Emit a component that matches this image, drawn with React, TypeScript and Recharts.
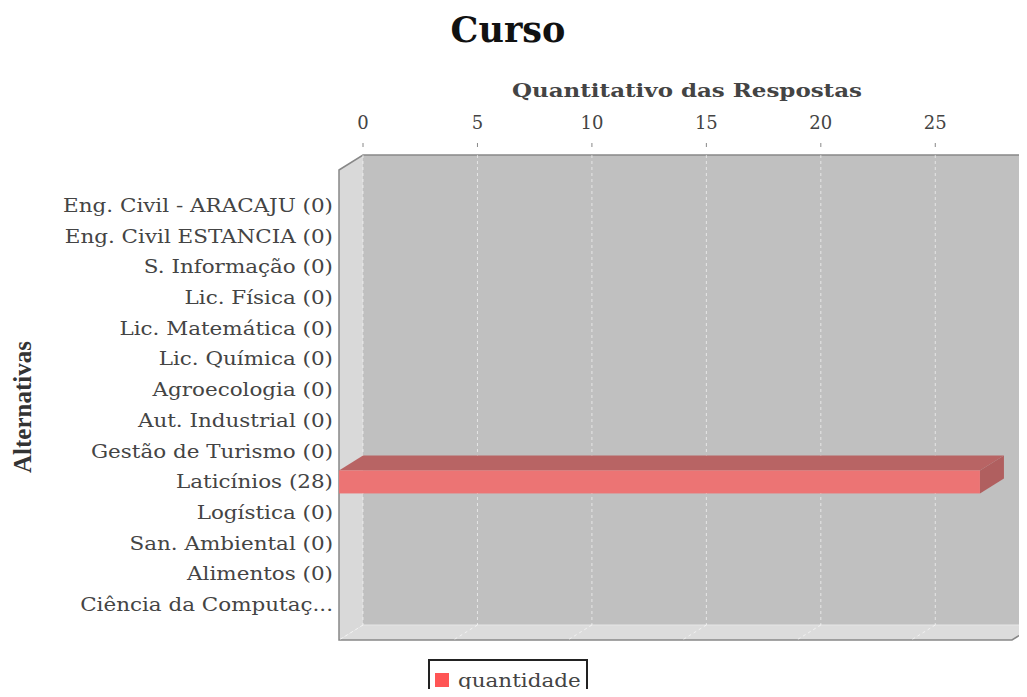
import React from "react";
import { BarChart, Bar, XAxis, YAxis, CartesianGrid, Legend } from "recharts";

const categories = [
  "Eng. Civil - ARACAJU (0)",
  "Eng. Civil ESTANCIA (0)",
  "S. Informação (0)",
  "Lic. Física (0)",
  "Lic. Matemática (0)",
  "Lic. Química (0)",
  "Agroecologia (0)",
  "Aut. Industrial (0)",
  "Gestão de Turismo (0)",
  "Laticínios (28)",
  "Logística (0)",
  "San. Ambiental (0)",
  "Alimentos (0)",
  "Ciência da Computaç...",
];
const quantidade = [0, 0, 0, 0, 0, 0, 0, 0, 0, 28, 0, 0, 0, 0];
const xTicks = [0, 5, 10, 15, 20, 25];

const data = categories.map((curso, i) => ({ curso, quantidade: quantidade[i] }));

// depth of the fake 3d effect
const DX = 24;
const DY = 15;
const SERIF = "'DejaVu Serif', serif";
// the original picture is a bit stretched sideways
const STRETCH = 1.13;

function Walls({ x, y, width, height }: any) {
  const w = width;
  const h = height;
  return (
    <g>
      <polygon
        points={`${x - DX},${y + DY} ${x},${y} ${x},${y + h} ${x - DX},${y + h + DY}`}
        fill="#d9d9d9"
      />
      <polygon
        points={`${x - DX},${y + h + DY} ${x},${y + h} ${x + w},${y + h} ${x + w - DX},${y + h + DY}`}
        fill="#dcdcdc"
      />
      <line x1={x} x2={x + w} y1={y + h} y2={y + h} stroke="#e6e6e6" />
      <path
        d={`M${x - DX},${y + DY} L${x},${y} L${x + w},${y} L${x + w},${y + h} L${x + w - DX},${y + h + DY} L${x - DX},${y + h + DY} Z`}
        fill="none"
        stroke="#888"
        strokeWidth={1.5}
      />
    </g>
  );
}

const verticalLine = (props: any) => {
  const { x1, y1, y2, index, x, y, width, height } = props;
  const atEdge = x1 >= x + width - 0.5;
  return (
    <g key={`v-${index}`}>
      {index === 0 && <Walls x={x} y={y} width={width} height={height} />}
      {!atEdge && (
        <>
          <line x1={x1} x2={x1} y1={y1} y2={y2} stroke="#fff" strokeOpacity={0.6} strokeDasharray="3 3" />
          <line x1={x1} x2={x1 - DX} y1={y2} y2={y2 + DY} stroke="#fff" strokeOpacity={0.6} strokeDasharray="3 3" />
        </>
      )}
    </g>
  );
};

const Bar3D = (props: any) => {
  const { x, y, width, height } = props;
  if (!width || width <= 0) return null;
  const fx = x - DX;
  const fy = y + DY;
  return (
    <g>
      <polygon points={`${fx},${fy} ${x},${y} ${x + width},${y} ${fx + width},${fy}`} fill="#b86464" />
      <polygon
        points={`${fx + width},${fy} ${x + width},${y} ${x + width},${y + height} ${fx + width},${fy + height}`}
        fill="#b05f5f"
      />
      <rect x={fx} y={fy} width={width} height={height} fill="#ec7474" />
    </g>
  );
};

const XTick = ({ x, y, payload }: any) => (
  <g>
    <line x1={x} x2={x} y1={y - 12} y2={y - 8} stroke="#888" />
    <text x={x} y={y - 33} textAnchor="middle" dominantBaseline="central" fontFamily={SERIF} fontSize={18} fill="#444">
      {payload.value}
    </text>
  </g>
);

const YTick = ({ x, y, payload }: any) => (
  <text
    transform={`translate(${x},${y + DY}) scale(${STRETCH},1)`}
    textAnchor="end"
    dominantBaseline="central"
    fontFamily={SERIF}
    fontSize={19}
    fill="#444"
  >
    {payload.value}
  </text>
);

const LegendBox = ({ payload }: any) => (
  <div
    style={{
      boxSizing: "border-box",
      width: 160,
      height: 46,
      border: "2px solid #222",
      padding: "9px 0 0 5px",
      fontFamily: SERIF,
      fontSize: 19,
      color: "#444",
      lineHeight: "20px",
      background: "#fff",
      whiteSpace: "nowrap",
    }}
  >
    {(payload || []).map((p: any) => (
      <span key={p.value} style={{ display: "inline-flex", alignItems: "center" }}>
        <span style={{ width: 14, height: 14, background: p.color, marginRight: 9, display: "inline-block" }} />
        <span style={{ display: "inline-block", transform: `scaleX(${STRETCH})`, transformOrigin: "left center" }}>
          {p.value}
        </span>
      </span>
    ))}
  </div>
);

export default function App() {
  return (
    <div style={{ position: "relative", width: 1019, height: 689, overflow: "hidden", marginBottom: -8 }}>
      <BarChart
        width={1050}
        height={689}
        data={data}
        layout="vertical"
        margin={{ top: 107, right: 22, bottom: 34, left: 5 }}
      >
        <CartesianGrid horizontal={false} vertical={verticalLine} fill="#c0c0c0" fillOpacity={1} />
        <XAxis
          type="number"
          orientation="top"
          domain={[0, 29.4]}
          ticks={xTicks}
          interval={0}
          height={40}
          tickSize={0}
          tickMargin={0}
          axisLine={false}
          tickLine={false}
          tick={<XTick />}
        />
        <YAxis
          type="category"
          dataKey="curso"
          width={350}
          interval={0}
          padding={{ top: 20, bottom: 20 }}
          tickSize={0}
          tickMargin={30}
          axisLine={false}
          tickLine={false}
          tick={<YTick />}
        />
        <Legend
          height={38}
          content={<LegendBox />}
          wrapperStyle={{ left: 420, top: 651, width: 170, bottom: "auto" }}
        />
        <Bar dataKey="quantidade" fill="#ff5555" barSize={23} shape={Bar3D} isAnimationActive={false} />
      </BarChart>
      <svg width={1019} height={689} style={{ position: "absolute", left: 0, top: 0, pointerEvents: "none" }}>
        <text x={500} y={34} textAnchor="middle" fontFamily={SERIF} fontWeight="bold" fontSize={35} fill="#111">
          Curso
        </text>
        <text
          x={679}
          y={89}
          textAnchor="middle"
          textLength={350}
          lengthAdjust="spacingAndGlyphs"
          fontFamily={SERIF}
          fontWeight="bold"
          fontSize={19}
          fill="#444"
        >
          Quantitativo das Respostas
        </text>
        <text
          x={14}
          y={399}
          transform="rotate(-90 14 399)"
          textAnchor="middle"
          dominantBaseline="central"
          fontFamily="'Liberation Serif', serif"
          fontWeight="bold"
          fontSize={25}
          fill="#333"
        >
          Alternativas
        </text>
      </svg>
    </div>
  );
}
